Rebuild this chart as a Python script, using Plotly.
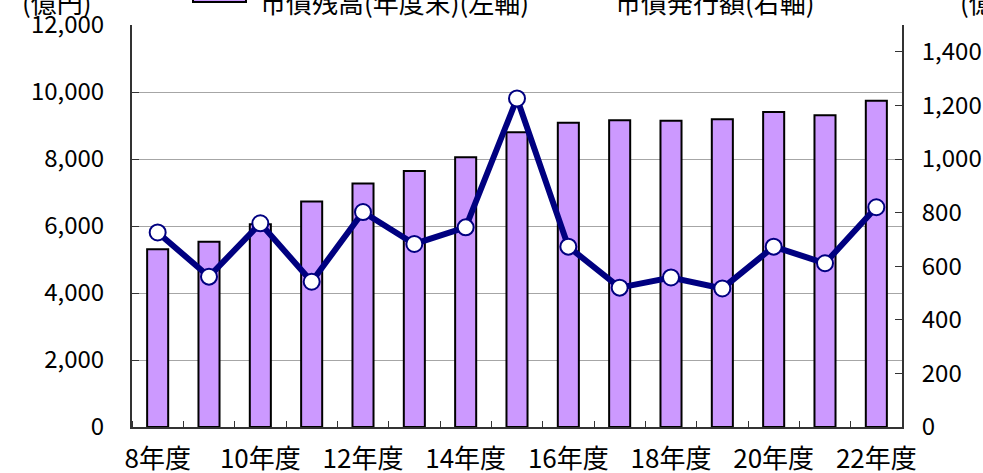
import plotly.graph_objects as go

years = ["8年度", "9年度", "10年度", "11年度", "12年度", "13年度", "14年度", "15年度",
         "16年度", "17年度", "18年度", "19年度", "20年度", "21年度", "22年度"]
debt_balance = [5305, 5530, 6050, 6730, 7270, 7640, 8050, 8800, 9085, 9155, 9145, 9185, 9400, 9305, 9740]
bond_issue = [726, 561, 760, 542, 802, 683, 745, 1226, 673, 520, 558, 517, 673, 611, 820]
left_ticks = [0, 2000, 4000, 6000, 8000, 10000, 12000]
right_ticks = [0, 200, 400, 600, 800, 1000, 1200, 1400]
name_bar = "市債残高(年度末)(左軸)"
name_line = "市債発行額(右軸)"
unit = "(億円)"

W, H = 983, 473
L, R, T, B = 132, 902, 25, 427
FONT = "Noto Sans CJK JP"

xs = list(range(len(years)))

fig = go.Figure()
fig.add_trace(go.Bar(
    x=xs, y=debt_balance, name=name_bar, width=0.41,
    marker=dict(color="#CC99FF", line=dict(color="black", width=2)),
    yaxis="y",
))
fig.add_trace(go.Scatter(
    x=xs, y=bond_issue, name=name_line, mode="lines+markers",
    line=dict(color="#000080", width=6),
    marker=dict(size=16, color="white", line=dict(color="#000080", width=2)),
    yaxis="y2",
))

def px(xp):
    return (xp - L) / (R - L)

def py(yp):
    return (B - yp) / (B - T)

fig.update_layout(
    width=W, height=H,
    margin=dict(l=L, r=W - R, t=T, b=H - B, pad=0, autoexpand=False),
    paper_bgcolor="white", plot_bgcolor="white",
    showlegend=False,
    font=dict(family=FONT, size=24, color="black"),
    xaxis=dict(
        range=[-0.5, len(years) - 0.5], automargin=False,
        tickmode="array", tickvals=xs[::2], ticktext=years[::2],
        tickfont=dict(size=26),
        ticks="", showgrid=False, zeroline=False,
        showline=True, linecolor="#333333", linewidth=2,
        ticklabelstandoff=8,
        minor=dict(tickmode="array", tickvals=[i - 0.5 for i in range(len(years) + 1)],
                   ticks="inside", ticklen=6, tickcolor="#333333", tickwidth=1, showgrid=False),
    ),
    yaxis=dict(
        range=[0, 12000], tickmode="array", tickvals=left_ticks, automargin=False,
        tickformat=",", ticks="inside", ticklen=7, tickcolor="#333333", tickwidth=1,
        showgrid=True, gridcolor="#A6A6A6", gridwidth=1, zeroline=False,
        showline=True, linecolor="#333333", linewidth=2,
        ticklabelstandoff=21,
    ),
    yaxis2=dict(
        range=[0, 1500], tickmode="array", tickvals=right_ticks, automargin=False,
        tickformat=",", ticks="inside", ticklen=7, tickcolor="#333333", tickwidth=1,
        overlaying="y", side="right", showgrid=False, zeroline=False,
        showline=True, linecolor="#333333", linewidth=2,
        ticklabelstandoff=13,
    ),
)

ty = py(1)
ann = dict(xref="paper", yref="paper", yanchor="middle", showarrow=False,
           font=dict(family=FONT, size=26, color="black"))
fig.add_annotation(x=px(20), y=ty, text=unit, xanchor="left", **ann)
fig.add_annotation(x=px(258), y=ty, text=name_bar, xanchor="left", **ann)
fig.add_annotation(x=px(613), y=ty, text=name_line, xanchor="left", **ann)
fig.add_annotation(x=px(958), y=ty, text=unit, xanchor="left", **ann)

fig.add_shape(type="rect", xref="paper", yref="paper",
              x0=px(193), x1=px(246), y0=py(2), y1=py(-10),
              fillcolor="#CC99FF", line=dict(color="black", width=2))
fig.add_shape(type="line", xref="paper", yref="paper",
              x0=px(555), x1=px(605), y0=py(-6), y1=py(-6),
              line=dict(color="#000080", width=5))

fig.write_html("out.html", config={"displayModeBar": False},
               post_script="document.body.style.margin='0';document.body.style.overflow='hidden';")
